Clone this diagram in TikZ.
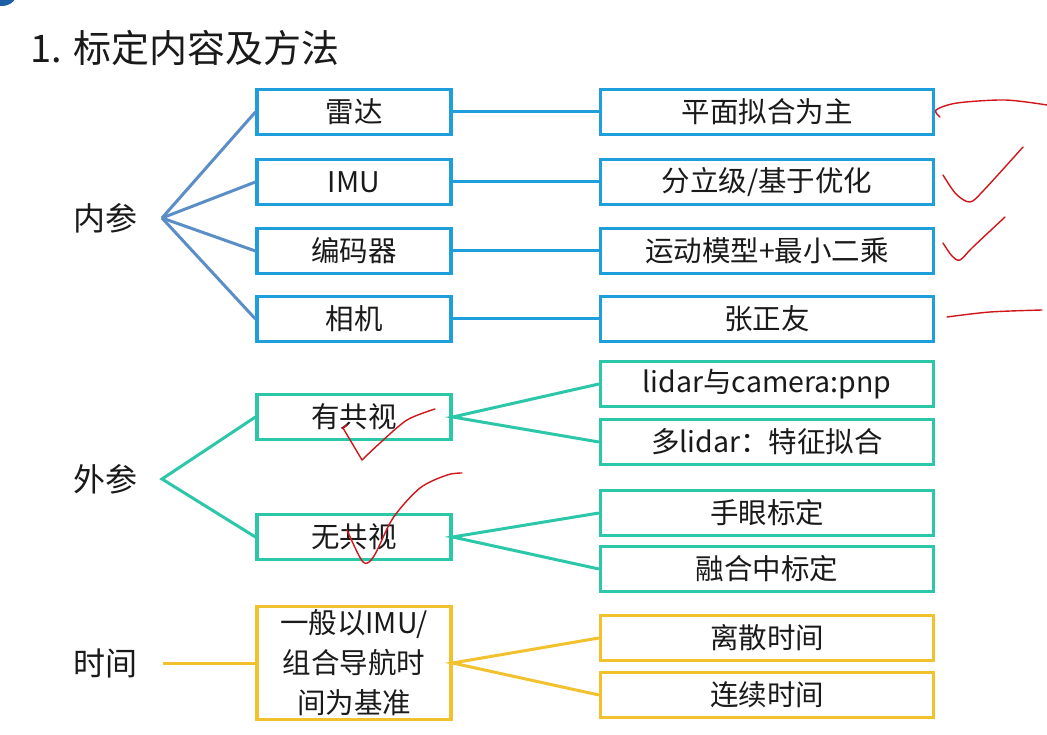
\documentclass[tikz,border=0pt]{standalone}
\usepackage{fontspec}
\setmainfont{Noto Sans CJK SC}
\definecolor{ink}{HTML}{1A1A1A}
\definecolor{inblue}{HTML}{1E9FDB}
\definecolor{fanblue}{HTML}{5B8EC6}
\definecolor{exgreen}{HTML}{2CC7A8}
\definecolor{tmyellow}{HTML}{F2C12E}
\definecolor{pen}{HTML}{D0161B}
\definecolor{corner}{HTML}{1F5FA8}
\begin{document}
\begin{tikzpicture}[x=1pt,y=-1pt,
  txt/.style={text=ink,font=\fontsize{28.5}{40}\selectfont,inner sep=0pt},
  grp/.style={text=ink,font=\fontsize{32}{36}\selectfont,inner sep=0pt},
  lbox/.style={txt,draw,line width=3.2pt,minimum width=194pt,minimum height=45pt,align=center},
  rbox/.style={txt,draw,line width=3.2pt,minimum width=333pt,minimum height=45pt,align=center},
  link/.style={line width=3pt},
  penstroke/.style={pen,line width=1.4pt,line cap=round,line join=round}
]
\useasboundingbox (0,0) rectangle (1047,735);
\fill[white] (0,0) rectangle (1047,735);
\fill[corner] (2,-10) circle (16);

% title
\node[anchor=west,text=ink,font=\fontsize{38}{42}\selectfont,inner sep=0pt] (title) at (30,48) {1. 标定内容及方法};

% intrinsic group
\node[grp] (nc) at (105,218) {内参};
\coordinate (nroot) at (162,218);
\node[lbox,draw=inblue] (radar) at (354,112) {雷达};
\node[lbox,draw=inblue] (imu) at (354,182) {IMU};
\node[lbox,draw=inblue] (enc) at (354,251) {编码器};
\node[lbox,draw=inblue] (cam) at (354,319) {相机};
\node[rbox,draw=inblue] (m1) at (767,112) {平面拟合为主};
\node[rbox,draw=inblue] (m2) at (767,182) {分立级/基于优化};
\node[rbox,draw=inblue] (m3) at (767,251) {运动模型+最小二乘};
\node[rbox,draw=inblue] (m4) at (767,319) {张正友};
\foreach \b in {radar,imu,enc,cam} \draw[link,fanblue] (nroot) -- (\b.west);
\draw[link,inblue] (radar) -- (m1);
\draw[link,inblue] (imu) -- (m2);
\draw[link,inblue] (enc) -- (m3);
\draw[link,inblue] (cam) -- (m4);

% extrinsic group
\node[grp] (ec) at (105,479) {外参};
\coordinate (eroot) at (162,479);
\node[lbox,draw=exgreen] (cov) at (354,417) {有共视};
\node[lbox,draw=exgreen] (nocov) at (354,537) {无共视};
\node[rbox,draw=exgreen] (e1) at (767,384) {lidar与camera:pnp};
\node[rbox,draw=exgreen] (e2) at (767,442) {多lidar：特征拟合};
\node[rbox,draw=exgreen] (e3) at (767,513) {手眼标定};
\node[rbox,draw=exgreen] (e4) at (767,569) {融合中标定};
\draw[link,exgreen] (cov.west) -- (eroot) -- (nocov.west);
\draw[link,exgreen] (e1.west) -- (cov.east) -- (e2.west);
\draw[link,exgreen] (e3.west) -- (nocov.east) -- (e4.west);

% time group
\node[grp] (tc) at (105,663) {时间};
\coordinate (troot) at (163,663);
\node[lbox,draw=tmyellow,minimum height=113pt,text width=180pt,font=\fontsize{28.5}{40}\selectfont] (base) at (354,663) {一般以IMU/\\组合导航时\\间为基准};
\node[rbox,draw=tmyellow] (t1) at (767,638) {离散时间};
\node[rbox,draw=tmyellow] (t2) at (767,695) {连续时间};
\draw[link,tmyellow] (troot) -- (base.west);
\draw[link,tmyellow] (t1.west) -- (base.east) -- (t2.west);

% pen annotations
\draw[penstroke] plot[smooth] coordinates {(940,117) (936,110) (957,103) (1005,100) (1047,105)};
\draw[penstroke] plot[smooth] coordinates {(943,175) (956,194) (970,202) (984,190) (1023,147)};
\draw[penstroke] plot[smooth] coordinates {(943,243) (952,256) (960,260) (973,247) (1005,217)};
\draw[penstroke] plot[smooth] coordinates {(947,317) (990,312) (1042,310)};
\draw[penstroke] (347,425) -- (343,428) -- (362,460);
\draw[penstroke] plot[smooth] coordinates {(362,460) (380,443) (407,420) (435,409)};
\draw[penstroke] plot[smooth] coordinates {(347,530) (363,562) (374,556) (393,518) (420,488) (447,475) (462,473)};
\end{tikzpicture}
\end{document}
